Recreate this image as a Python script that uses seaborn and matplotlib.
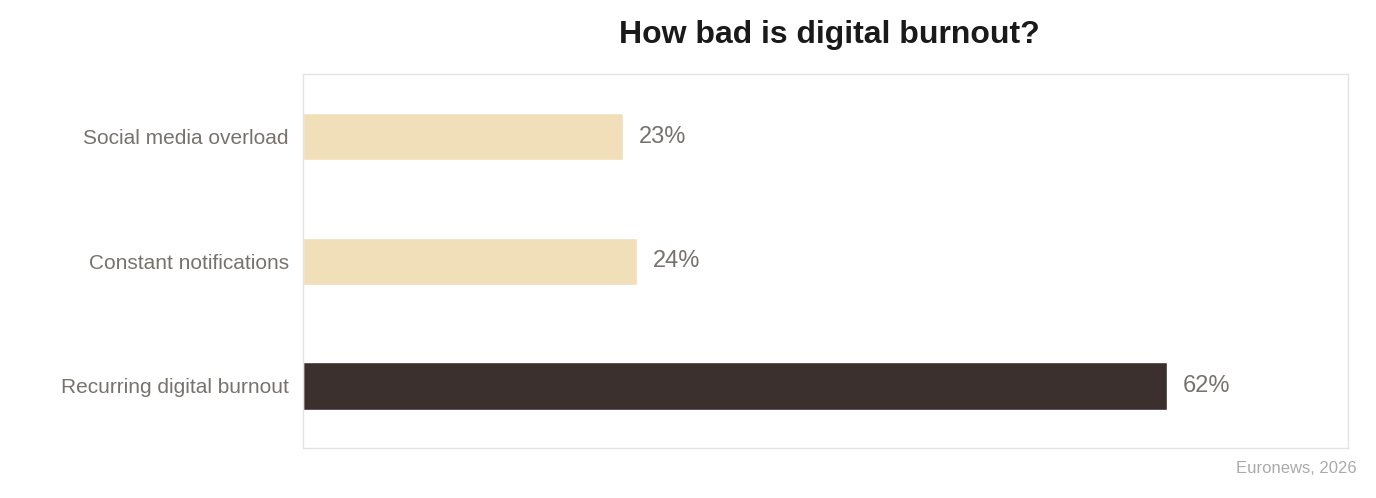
import matplotlib
matplotlib.use("Agg")
import matplotlib.pyplot as plt
import seaborn as sns
import pandas as pd

# data
categories = ["Social media overload", "Constant notifications", "Recurring digital burnout"]
values = [23, 24, 62]
colors = ["#F0DFB8", "#F0DFB8", "#3B302D"]

df = pd.DataFrame({"cat": categories, "val": values})

sns.set_style("white")
plt.rcParams["font.family"] = ["Arial", "Liberation Sans", "DejaVu Sans"]

fig = plt.figure(figsize=(13.76, 4.98), dpi=100)
ax = fig.add_axes([0.220, 0.100, 0.760, 0.751])

sns.barplot(data=df, x="val", y="cat", hue="cat", palette=colors,
            width=0.38, legend=False, ax=ax, saturation=1)

ax.set_xlim(0, 75)
ax.set_ylim(2.5, -0.5)
ax.set_xticks([])
ax.set_xlabel("")
ax.set_ylabel("")
ax.tick_params(axis="y", length=0, labelsize=15, labelcolor="#77726D", pad=10)
for s in ax.spines.values():
    s.set_color("#E3E3E3")
    s.set_linewidth(1)

for i, v in enumerate(values):
    ax.text(v + 1.1, i, f"{v}%", va="center", ha="left", fontsize=17, color="#77726D")

fig.text(0.603, 0.93, "How bad is digital burnout?", ha="center", va="center",
         fontsize=23, fontweight="bold", color="#1A1A1A")
fig.text(0.986, 0.06, "Euronews, 2026", ha="right", va="center",
         fontsize=12, color="#AAAAAA")

fig.savefig("out.png", dpi=100)
